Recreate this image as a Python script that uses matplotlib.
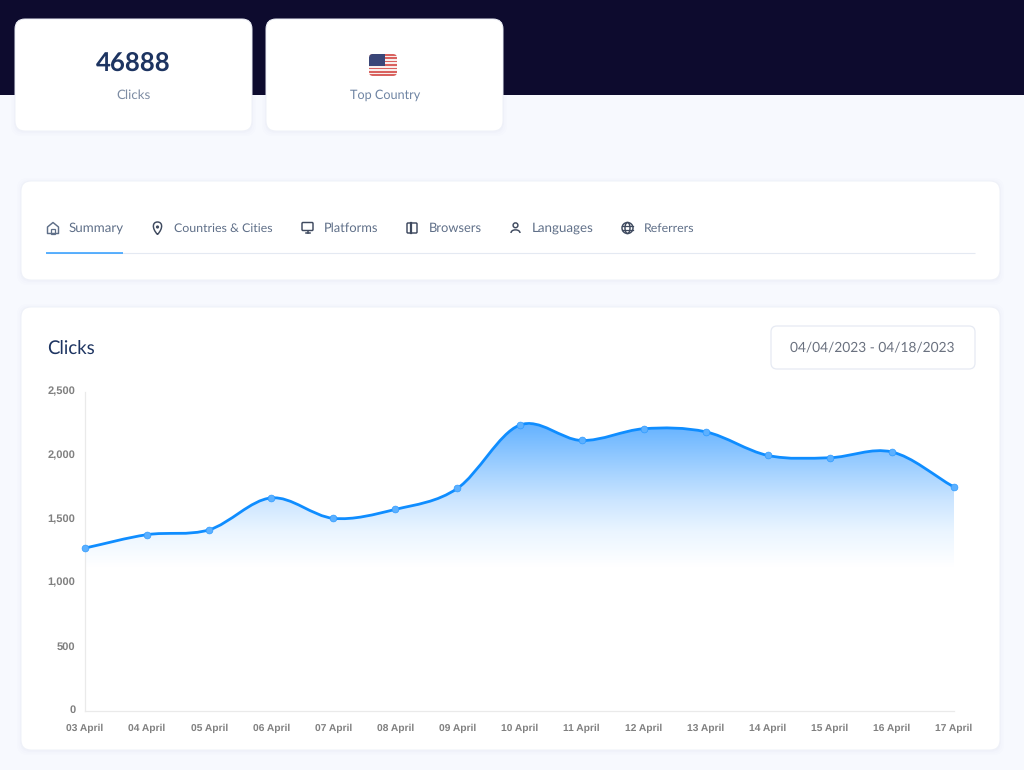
import numpy as np
import matplotlib
matplotlib.use("Agg")
import matplotlib.pyplot as plt
from matplotlib.patches import FancyBboxPatch, Rectangle, Circle, PathPatch, Ellipse, Polygon
from matplotlib.path import Path
from matplotlib.colors import LinearSegmentedColormap
from matplotlib.ticker import FuncFormatter
from matplotlib.transforms import ScaledTranslation

plt.rcParams["text.hinting"] = "no_hinting"

days = ["03 April", "04 April", "05 April", "06 April", "07 April", "08 April", "09 April", "10 April",
        "11 April", "12 April", "13 April", "14 April", "15 April", "16 April", "17 April"]
clicks = [1277, 1382, 1420, 1670, 1510, 1580, 1745, 2240, 2120, 2212, 2188, 2003, 1985, 2030, 1755]
yticks = [0, 500, 1000, 1500, 2000, 2500]
tabs = ["Summary", "Countries & Cities", "Platforms", "Browsers", "Languages", "Referrers"]
tab_text_x = [69, 174, 323.5, 429, 532, 643.5]
tab_icon_x = [53, 157.5, 307.5, 412, 515.5, 627.5]
tab_sizes = [9.6, 8.9, 9.25, 9.25, 9.6, 8.9]

UI = ["Lato", "Noto Sans", "DejaVu Sans"]
W, H = 1024, 770
fig = plt.figure(figsize=(W / 100, H / 100), dpi=100, facecolor="#F7F9FE")
bg = fig.add_axes([0, 0, 1, 1], zorder=0)
bg.set_xlim(0, W); bg.set_ylim(H, 0); bg.axis("off")


def card(x0, y0, x1, y1, r=10, ec="#EEF1F8", lw=0.7, fc="white", shadow=True):
    if shadow:
        for grow, a in ((4, .006), (2.5, .008), (1, .012)):
            bg.add_patch(FancyBboxPatch((x0 - grow + r, y0 - grow + 1 + r), x1 - x0 + 2 * grow - 2 * r,
                                        y1 - y0 + 2 * grow - 2 * r, boxstyle=f"round,pad={r}",
                                        fc="#3A4A80", ec="none", alpha=a))
    p = FancyBboxPatch((x0 + r, y0 + r), x1 - x0 - 2 * r, y1 - y0 - 2 * r, boxstyle=f"round,pad={r}",
                       fc=fc, ec=ec, lw=lw)
    bg.add_patch(p)
    return p


bg.add_patch(Rectangle((0, 0), W, 95, fc="#0D0B2E", ec="none"))
card(15, 19, 252, 131)
card(266, 19, 503, 131)
card(21, 181, 1000, 280)
card(21, 307, 1000, 750)

bg.text(133.5, 63, "46888", ha="center", va="center", fontsize=18.5, fontweight="bold", color="#1D3461",
        family=UI)
bg.text(133.5, 95.5, "Clicks", ha="center", va="center", fontsize=9.6, color="#7D8CA3", family=UI)
bg.text(385, 95.5, "Top Country", ha="center", va="center", fontsize=9.1, color="#6E84A3", family=UI)

# flag
fx0, fy0, fw, fh = 369, 54, 28, 22
clip = FancyBboxPatch((fx0 + 4, fy0 + 4), fw - 8, fh - 8, boxstyle="round,pad=4", fc="white", ec="none",
                      transform=bg.transData)
bg.add_patch(clip)
for i in range(13):
    s = Rectangle((fx0, fy0 + i * fh / 13), fw, fh / 13, fc="#D9625F" if i % 2 == 0 else "#F8EEEC", ec="none")
    bg.add_patch(s); s.set_clip_path(clip)
c = Rectangle((fx0, fy0), 16, fh * 7 / 13, fc="#3A4678", ec="none")
bg.add_patch(c); c.set_clip_path(clip)

# tabs
tab_col = "#5F6F88"
for t, x, fs in zip(tabs, tab_text_x, tab_sizes):
    bg.text(x, 228.5, t, ha="left", va="center", fontsize=fs, color=tab_col, family=UI)
bg.plot([46, 975], [252.8, 252.8], color="#E4E9F2", lw=0.8, solid_capstyle="butt")
bg.plot([46, 123], [252.5, 252.5], color="#2D9CFF", lw=1.1, solid_capstyle="butt")

ic = "#3F4A5F"
st = dict(fill=False, ec=ic, lw=1.05)
# home
x = tab_icon_x[0]
bg.add_patch(Polygon([(x - 5.5, 227), (x, 222.5), (x + 5.5, 227), (x + 5.5, 233.5), (x - 5.5, 233.5)],
                     closed=True, joinstyle="round", fill=False, ec="#5F6F88", lw=1.05))
bg.add_patch(Rectangle((x - 2, 228.5), 4, 5, fill=False, ec="#5F6F88", lw=0.9))
# pin
x = tab_icon_x[1]
bg.add_patch(PathPatch(Path([(x, 234.5), (x - 6, 228), (x - 5, 222), (x, 222), (x + 5, 222), (x + 6, 228), (x, 234.5)],
                            [Path.MOVETO, Path.CURVE4, Path.CURVE4, Path.CURVE4, Path.CURVE4, Path.CURVE4, Path.CURVE4]),
                       **st))
bg.add_patch(Circle((x, 227), 1.6, fc=ic, ec="none"))
# monitor
x = tab_icon_x[2]
bg.add_patch(FancyBboxPatch((x - 4.5, 223.5), 9, 6, boxstyle="round,pad=1", **st))
bg.plot([x - 2, x + 2], [232.7, 232.7], color=ic, lw=1.1)
bg.plot([x, x], [230.5, 232.7], color=ic, lw=1.1)
# panel
x = tab_icon_x[3]
bg.add_patch(FancyBboxPatch((x - 4, 224), 8, 8, boxstyle="round,pad=1", **st))
bg.plot([x - 1.5, x - 1.5], [223, 233], color=ic, lw=1.6)
# person
x = tab_icon_x[4]
bg.add_patch(Circle((x, 225.3), 2.4, **st))
bg.add_patch(PathPatch(Path([(x - 4.5, 233), (x - 4.5, 228.8), (x + 4.5, 228.8), (x + 4.5, 233)],
                            [Path.MOVETO, Path.CURVE4, Path.CURVE4, Path.CURVE4]), **st))
# globe
x = tab_icon_x[5]
bg.add_patch(Circle((x, 228), 5.5, **st))
bg.add_patch(Ellipse((x, 228), 5, 11, **st))
bg.plot([x - 5.5, x + 5.5], [226.2, 226.2], color=ic, lw=0.9)
bg.plot([x - 5.5, x + 5.5], [229.8, 229.8], color=ic, lw=0.9)

# card header
bg.text(47, 348, "Clicks", ha="left", va="center", fontsize=13.4, color="#1D3461", family=UI)
card(771, 326, 975, 369, r=6, ec="#E6EAF3", lw=0.9, shadow=False)
bg.text(872, 347.5, "04/04/2023 - 04/18/2023", ha="center", va="center", fontsize=9.9, color="#6B7280", family=UI)

# chart
L, R, B, T = 85, 954, 711, 392
ax = fig.add_axes([L / W, 1 - B / H, (R - L) / W, (B - T) / H], zorder=2)
ax.patch.set_alpha(0)
xs = np.arange(len(days))
ys = np.array(clicks, dtype=float)

# spline tangents from neighbouring values
m = np.zeros(len(ys))
m[1:-1] = (ys[2:] - ys[:-2]) / 2
m[0] = ys[1] - ys[0]
m[-1] = ys[-1] - ys[-2]
verts = [(xs[0], ys[0])]
codes = [Path.MOVETO]
for i in range(len(xs) - 1):
    verts += [(xs[i] + 1 / 3, ys[i] + m[i] / 3), (xs[i + 1] - 1 / 3, ys[i + 1] - m[i + 1] / 3), (xs[i + 1], ys[i + 1])]
    codes += [Path.CURVE4] * 3
curve = Path(verts, codes)
area = Path(verts + [(xs[-1], 0), (xs[0], 0), (xs[0], ys[0])], codes + [Path.LINETO] * 3)

cmap = LinearSegmentedColormap.from_list(
    "fade", [(0, "#FFFFFF"), (.255, "#EAF5FF"), (.47, "#CBE5FF"), (.68, "#A4D2FF"), (1, "#66B3FF")])
im = ax.imshow(np.linspace(1, 0, 256).reshape(-1, 1), extent=(xs[0], xs[-1], 1130, max(clicks)),
               aspect="auto", cmap=cmap, vmin=0, vmax=1, zorder=1)
clip_area = PathPatch(area, transform=ax.transData, fc="none", ec="none")
ax.add_patch(clip_area)
im.set_clip_path(clip_area)
ax.add_patch(PathPatch(curve, fc="none", ec="#0F8DFF", lw=2.0, zorder=3, clip_on=False, capstyle="round"))
ax.scatter(xs, ys, s=24, color="#5CB0FF", edgecolor="#2E9BFF", linewidth=0.5, zorder=4, clip_on=False)

ax.set_xlim(xs[0], xs[-1])
ax.set_ylim(0, 2500)
ax.set_xticks(xs, days)
ax.set_yticks(yticks)
ax.yaxis.set_major_formatter(FuncFormatter(lambda v, _: f"{int(v):,}"))
ax.tick_params(length=0, labelsize=7.4, labelcolor="#808080")
ax.tick_params(axis="x", pad=8.8)
ax.tick_params(axis="y", pad=7, labelsize=8)
fig.canvas.draw()
for lab in ax.get_xticklabels() + ax.get_yticklabels():
    lab.set_family(["Liberation Sans", "DejaVu Sans"])
    lab.set_fontweight("bold")
for lab in ax.get_yticklabels():
    lab.set_transform(lab.get_transform() + ScaledTranslation(0, 1.7 / 100, fig.dpi_scale_trans))
for s in ("top", "right"):
    ax.spines[s].set_visible(False)
for s in ("left", "bottom"):
    ax.spines[s].set_color("#EAEAEA")
    ax.spines[s].set_linewidth(0.9)

fig.savefig("out.png", dpi=100, facecolor=fig.get_facecolor())
